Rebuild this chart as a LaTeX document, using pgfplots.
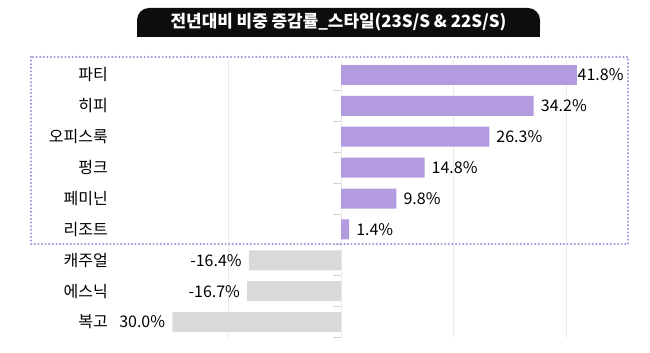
\documentclass[border=0pt]{standalone}
\usepackage{fontspec}
\setmainfont{Noto Sans CJK KR}
\usepackage{pgfplots}
\usepackage{pgfplotstable}
\pgfplotsset{compat=1.18}
\definecolor{barpurple}{RGB}{179,155,224}
\definecolor{bargray}{RGB}{217,217,217}
\definecolor{dotpurple}{RGB}{160,138,220}
\definecolor{gridgray}{RGB}{235,235,235}

\pgfplotstableread{
y x lab
0 41.8 41.8\%
}\tabfirst
\pgfplotstableread{
y x lab
1 34.2 34.2\%
2 26.3 26.3\%
3 14.8 14.8\%
4 9.8 9.8\%
5 1.4 1.4\%
}\tabpos
\pgfplotstableread{
y x lab
6 -16.4 -16.4\%
7 -16.7 -16.7\%
8 -30.0 30.0\%
}\tabneg

\begin{document}
\begin{tikzpicture}
\path[use as bounding box] (0,0) rectangle (650bp,353bp);
% title
\fill[black!95, rounded corners=12bp] (137bp,316bp) rectangle (540bp,345bp);
\fill[black!95] (137bp,316bp) rectangle (540bp,330bp);
\node[text=white, font=\fontsize{16.9bp}{19bp}\selectfont\bfseries] at (338.5bp,330.5bp) {전년대비 비중 증감률\_스타일(23S/S \& 22S/S)};
\begin{axis}[
  at={(116bp,15.5bp)}, anchor=south west,
  scale only axis, width=506.7bp, height=278bp,
  xmin=-40, xmax=50, ymin=-0.5, ymax=8.5,
  y dir=reverse,
  xbar, bar width=20bp, bar shift=0pt,
  xtick={-20,0,20,40}, xticklabels={},
  xmajorgrids, grid style={gridgray, line width=0.8bp},
  ytick={0,1,2,3,4,5,6,7,8},
  yticklabels={파티,히피,오피스룩,펑크,페미닌,리조트,캐주얼,에스닉,복고},
  yticklabel style={font=\fontsize{16bp}{18bp}\selectfont, anchor=east, inner sep=0pt},
  yticklabel shift=8bp,
  major tick length=0pt,
  axis line style={draw=none},
  tick style={draw=none},
  clip=false,
  point meta=explicit symbolic,
  nodes near coords,
  nodes near coords style={font=\fontsize{16bp}{18bp}\selectfont, inner sep=0pt, text=black},
]
\addplot[fill=barpurple, draw=none, nodes near coords style={anchor=west, xshift=1bp}] table[x=x, y=y, meta=lab] {\tabfirst};
\addplot[fill=barpurple, draw=none, nodes near coords style={anchor=west, xshift=7bp}] table[x=x, y=y, meta=lab] {\tabpos};
\addplot[fill=bargray, draw=none, nodes near coords style={anchor=east, xshift=-7bp}] table[x=x, y=y, meta=lab] {\tabneg};
\pgfplotsinvokeforeach{0.5,1.5,2.5,3.5,4.5,5.5,6.5,7.5,8.5}{
  \draw[gray!35, line width=0.8bp] (axis cs:0,#1) -- ++(-8bp,0pt);
}
\end{axis}
% dotted frame
\draw[dotpurple, line width=2.2bp, line cap=round, dash pattern=on 0bp off 3.6bp] (31bp,296bp) rectangle (628bp,109bp);
\end{tikzpicture}
\end{document}
